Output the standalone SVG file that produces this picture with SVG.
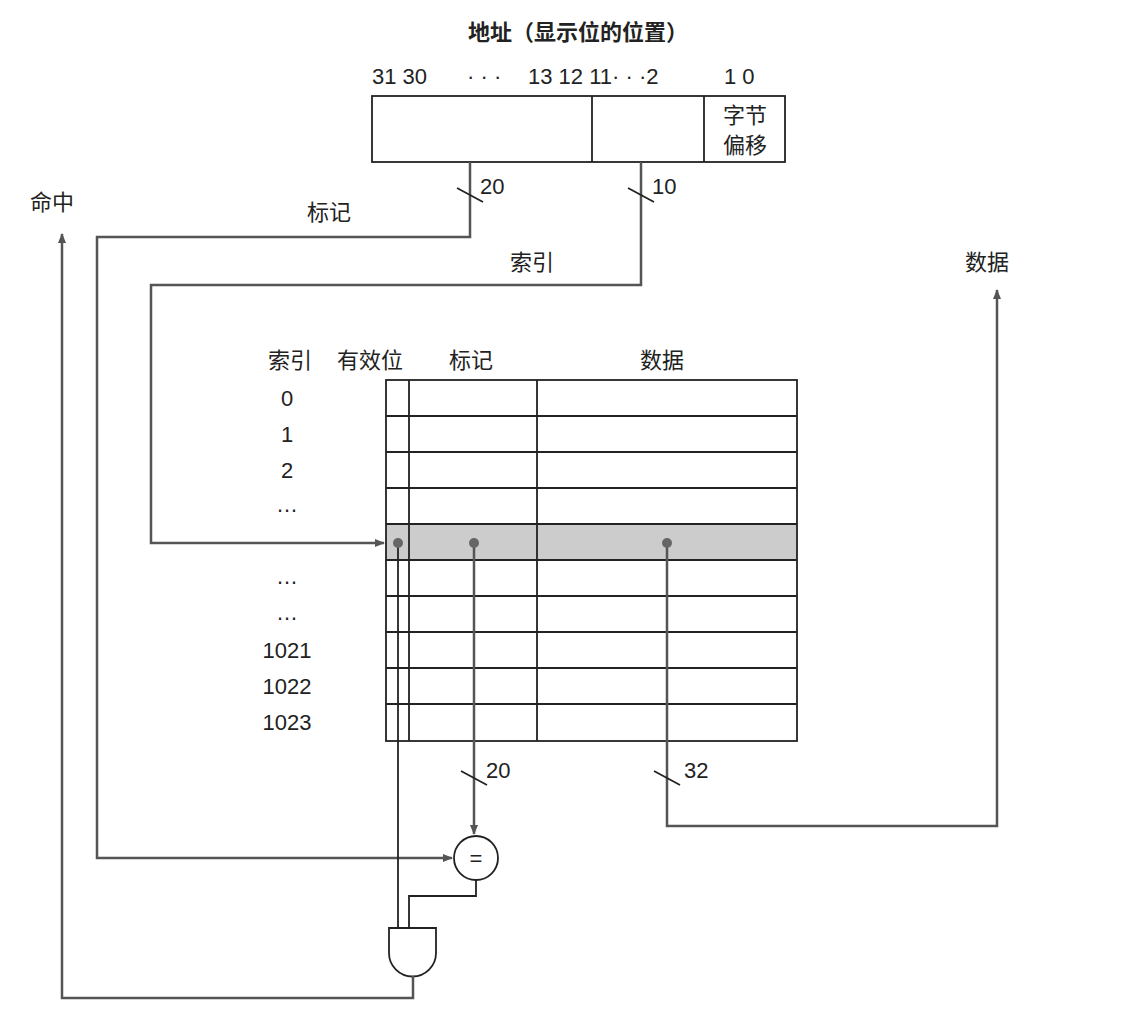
<svg xmlns="http://www.w3.org/2000/svg" width="1146" height="1020" viewBox="0 0 1146 1020">
<style>
text{font-family:"Liberation Sans","Noto Sans CJK SC",sans-serif;fill:#222;font-size:22px}
.c{text-anchor:middle}
.b{fill:none;stroke:#222;stroke-width:1.8}
.w{fill:none;stroke:#555;stroke-width:2.5}
</style>
<defs><marker id="a" markerWidth="10" markerHeight="10" refX="9" refY="5" orient="auto" markerUnits="userSpaceOnUse"><path d="M0,1 L10,5 L0,9 Z" fill="#555"/></marker></defs>
<rect width="1146" height="1020" fill="#fff"/>
<g id="address">
<text x="578" y="40" class="c" font-weight="bold" fill="#444">地址（显示位的位置）</text>
<text x="372" y="84" font-size="24">31 30</text><text x="467" y="84" font-size="24">· · ·</text><text x="528" y="84" font-size="24">13 12 11· · ·2</text><text x="724" y="84" font-size="24">1 0</text>
<rect x="372" y="96" width="413" height="66" class="b"/>
<line x1="592" y1="96" x2="592" y2="162" class="b"/><line x1="704" y1="96" x2="704" y2="162" class="b"/>
<text x="745" y="123" class="c">字节</text><text x="745" y="153" class="c">偏移</text>
</g>
<g id="table">
<rect x="386" y="524" width="411" height="36" fill="#ccc"/>
<rect x="386" y="380" width="411" height="361" class="b"/>
<path d="M386 416H797M386 452H797M386 488H797M386 524H797M386 560H797M386 596H797M386 632H797M386 668H797M386 704H797M409 380V741M537 380V741" class="b"/>
<text x="290" y="368" class="c">索引</text><text x="370" y="368" class="c">有效位</text><text x="471" y="368" class="c">标记</text><text x="662" y="368" class="c">数据</text>
<text x="287" y="406" class="c">0</text><text x="287" y="442" class="c">1</text><text x="287" y="478" class="c">2</text><text x="287" y="512" class="c">…</text>
<text x="287" y="584" class="c">…</text><text x="287" y="620" class="c">…</text>
<text x="287" y="658" class="c">1021</text><text x="287" y="694" class="c">1022</text><text x="287" y="730" class="c">1023</text>
</g>
<g id="compare"><circle cx="476" cy="858" r="22" fill="#fff" stroke="#222" stroke-width="1.8"/><text x="476" y="866" class="c">=</text></g>
<g id="and"><path d="M389 928H436V953A23.5 23.5 0 0 1 389 953Z" fill="#fff" stroke="#222" stroke-width="1.8"/></g>
<g id="labels">
<text x="30" y="210">命中</text><text x="307" y="220">标记</text><text x="510" y="270">索引</text><text x="965" y="270">数据</text>
<text x="480" y="194">20</text><text x="652" y="194">10</text><text x="486" y="778">20</text><text x="684" y="778">32</text>
</g>
<g id="connectors">
<path d="M470 162V237H97V858H452" class="w" marker-end="url(#a)"/>
<path d="M641 162V285H151V543H384" class="w" marker-end="url(#a)"/>
<path d="M474 543V834" class="w" marker-end="url(#a)"/>
<path d="M667 543V826H997V290" class="w" marker-end="url(#a)"/>
<path d="M398 543V928" class="b"/>
<path d="M476 880V896H409V928" class="b"/>
<path d="M413 976V998H62V234" class="w" marker-end="url(#a)"/>
<circle cx="398" cy="543" r="5" fill="#666"/><circle cx="474" cy="543" r="5" fill="#666"/><circle cx="667" cy="543" r="5" fill="#666"/>
<path d="M457 188L483 202M628 188L654 202M461 771L487 785M654 771L680 785" class="b"/>
</g>
</svg>
